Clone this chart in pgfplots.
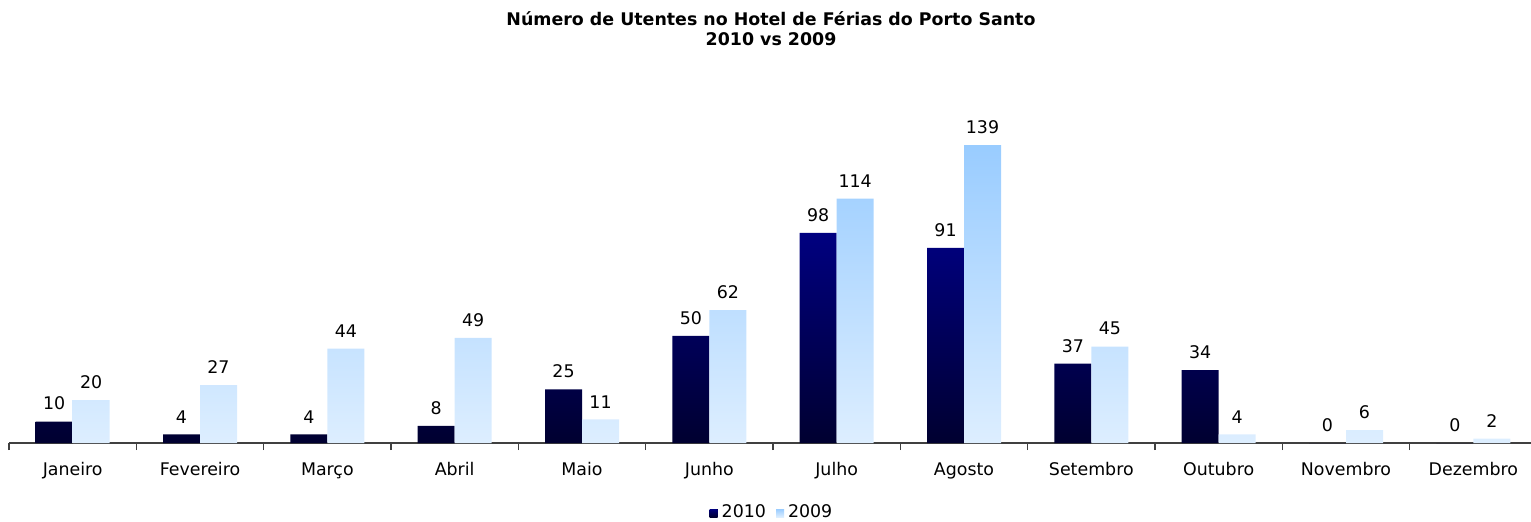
\documentclass[border=0pt]{standalone}
\usepackage{fontspec}
\setmainfont{DejaVu Sans}
\usepackage{pgfplots}
\pgfplotsset{compat=1.18}
\definecolor{navytop}{HTML}{000080}
\definecolor{navymid}{HTML}{000070}
\definecolor{navybot}{HTML}{000030}
\definecolor{lbtop}{HTML}{99CCFF}
\definecolor{lbmid}{HTML}{AFD7FF}
\definecolor{lbbot}{HTML}{DDEEFF}
\definecolor{axgray}{HTML}{404040}
\newcommand{\lblfont}{\fontsize{8.7}{10}\selectfont}
\begin{document}
\begin{tikzpicture}[x=1pt,y=1pt]
\useasboundingbox (-4.5,-39) rectangle (761,221.5);
\begin{axis}[
  at={(0pt,0pt)}, anchor=south west,
  scale only axis, width=764pt, height=171.5pt,
  xmin=-0.5, xmax=11.5, ymin=0, ymax=160,
  axis x line*=bottom, axis y line=none,
  ybar=0pt, bar width=18.5pt,
  xtick={0,...,11},
  xticklabels={Janeiro,Fevereiro,Março,Abril,Maio,Junho,Julho,Agosto,Setembro,Outubro,Novembro,Dezembro},
  major tick length=0pt,
  minor xtick={-0.5,0.5,...,11.5},
  minor tick length=3.5pt,
  tick align=outside,
  x axis line style={color=axgray, line width=0.6pt},
  every tick/.style={color=axgray, line width=0.6pt},
  every minor tick/.style={color=axgray, line width=0.6pt},
  xticklabel style={font=\lblfont, anchor=base, yshift=-16pt},
  nodes near coords,
  nodes near coords style={font=\lblfont, text=black, anchor=south, inner sep=0pt, yshift=5.5pt},
  /pgf/number format/assume math mode=true,
  legend style={at={(0.5,0)}, anchor=center, yshift=-35pt, draw=none, fill=none, font=\lblfont,
    /tikz/every even column/.append style={column sep=3pt}},
  legend columns=-1,
  legend image code/.code={\fill[#1] (0pt,-2pt) rectangle (4pt,2pt);},
]
\addplot[draw=none, top color=navytop, middle color=navymid, bottom color=navybot] coordinates {
(0,10) (1,4) (2,4) (3,8) (4,25) (5,50) (6,98) (7,91) (8,37) (9,34) (10,0) (11,0)};
\addplot[draw=none, top color=lbtop, middle color=lbmid, bottom color=lbbot] coordinates {
(0,20) (1,27) (2,44) (3,49) (4,11) (5,62) (6,114) (7,139) (8,45) (9,4) (10,6) (11,2)};
\legend{2010,2009}
\end{axis}
\node[font=\bfseries\lblfont, align=center] at (381,207) {Número de Utentes no Hotel de Férias do Porto Santo\\2010 vs 2009};
\end{tikzpicture}
\end{document}
